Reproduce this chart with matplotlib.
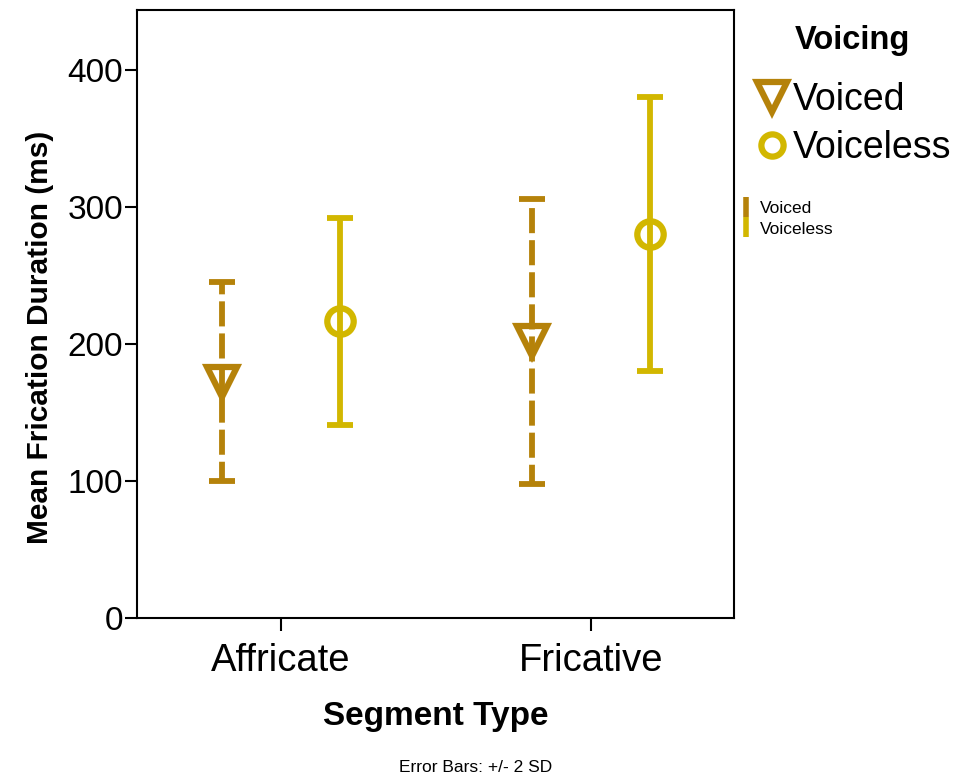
import matplotlib
matplotlib.use("Agg")
import matplotlib.pyplot as plt
from matplotlib.lines import Line2D
import numpy as np

plt.rcParams['font.family'] = ['Liberation Sans', 'DejaVu Sans']

categories = ["Affricate", "Fricative"]
groups = ["Voiced", "Voiceless"]
means = {"Voiced": [172.5, 202.0], "Voiceless": [216.5, 280.0]}
err2sd = {"Voiced": [72.5, 104.0], "Voiceless": [75.5, 100.0]}
yticks = [0, 100, 200, 300, 400]

colors = {"Voiced": "#B5820A", "Voiceless": "#D2B700"}
markers = {"Voiced": "v", "Voiceless": "o"}
offsets = {"Voiced": -0.19, "Voiceless": 0.19}

W, H = 957, 777
fig = plt.figure(figsize=(W / 100, H / 100), dpi=100)
ax = fig.add_axes([137 / W, 1 - 618 / H, (734 - 137) / W, (618 - 10) / H])

x = np.arange(len(categories))
for g in groups:
    xs = x + offsets[g]
    eb = ax.errorbar(xs, means[g], yerr=err2sd[g], fmt='none', ecolor=colors[g],
                     elinewidth=4.2, capsize=9.7, capthick=4.2, zorder=2)
    if g == "Voiced":
        for lc in eb[2]:
            lc.set_linestyle((1.0, (4.3, 1.2)))
    ax.plot(xs, means[g], linestyle='none', marker=markers[g],
            markersize=22 if g == "Voiced" else 19,
            markerfacecolor='none', markeredgecolor=colors[g],
            markeredgewidth=4.5, zorder=3)

ax.set_xlim(-0.4645, 1.4613)
ax.set_ylim(0, 443.8)
ax.set_xticks(x)
ax.set_xticklabels(categories, fontsize=27.5)
ax.set_yticks(yticks)
ax.set_yticklabels([str(t) for t in yticks], fontsize=24)
ax.tick_params(axis='y', length=9, width=1.5, pad=1)
ax.tick_params(axis='x', length=9, width=1.5, pad=9)
for s in ax.spines.values():
    s.set_linewidth(1.5)

ax.set_xlabel("Segment Type", fontsize=24, fontweight='bold', labelpad=16)
ax.set_ylabel("Mean Frication Duration (ms)", fontsize=21.5, fontweight='bold', labelpad=10)
ax.yaxis.label.set_y(0.462)

fig.text(852 / W, 1 - 40 / H, "Voicing", fontsize=23.5, fontweight='bold',
         ha='center', va='center')
handles = [Line2D([], [], linestyle='none', marker=markers[g],
                  markersize=21 if g == "Voiced" else 16,
                  markerfacecolor='none', markeredgecolor=colors[g],
                  markeredgewidth=4.5) for g in groups]
fig.legend(handles, groups, loc='upper left',
           bbox_to_anchor=(755 / W, 1 - 82 / H), frameon=False,
           fontsize=27, handlelength=0.9, handletextpad=0.1, labelspacing=0.32,
           borderaxespad=0, borderpad=0)

handles2 = [Line2D([], [], linestyle='none', marker='|', markersize=14,
                   markeredgewidth=4, markeredgecolor=colors[g]) for g in groups]
fig.legend(handles2, groups, loc='upper left',
           bbox_to_anchor=(738 / W, 1 - 201 / H), frameon=False,
           fontsize=12.5, handlelength=0.9, handletextpad=0.35,
           labelspacing=0.3, borderaxespad=0, borderpad=0)

fig.text(476 / W, 1 - 768 / H, "Error Bars: +/- 2 SD", fontsize=12.5,
         ha='center', va='center')

fig.savefig("out.png", dpi=100)
